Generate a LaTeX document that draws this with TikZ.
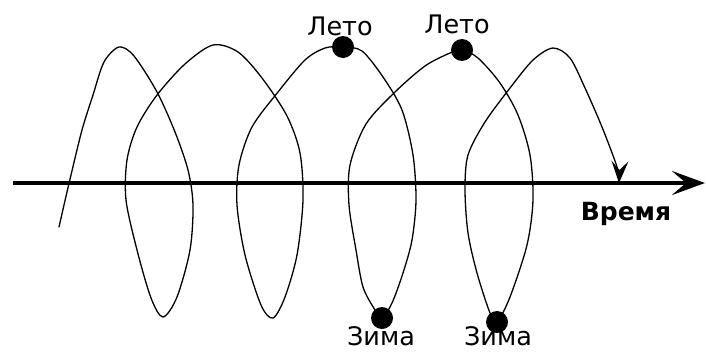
\documentclass[tikz,border=0pt]{standalone}
\usepackage{fontspec}
\setmainfont{DejaVu Sans}
\usetikzlibrary{arrows.meta}
\tikzset{
  lbl/.style={anchor=base, inner sep=0pt, font=\fontsize{25.5}{30}\selectfont},
  lblb/.style={lbl, font=\fontsize{25}{30}\selectfont\bfseries},
  dot/.style={circle, fill=black, inner sep=0pt, minimum size=22pt},
  spiral/.style={line width=1.3pt, line join=round, line cap=round},
  axis/.style={line width=4pt, -{Stealth[length=33pt,width=24pt,inset=14pt]}}
}
\begin{document}
\begin{tikzpicture}[x=1pt,y=-1pt]
\useasboundingbox (0,0) rectangle (706,351);
\coordinate (s1) at (343,47);
\coordinate (s2) at (462,50);
\coordinate (w1) at (382,318);
\coordinate (w2) at (497,322);
\coordinate (a0) at (13,183);
\coordinate (a1) at (705,183);
\coordinate (e) at (619,183);
% time axis
\draw[axis] (a0) -- (a1);
% spiral
\draw[spiral, -{Stealth[length=22pt,width=17pt,inset=9pt]}] plot[smooth, tension=0.5] coordinates {
 (59,227) (64,205) (71,175) (82,130) (93,95) (104,62) (119,47) (134,56) (157,92)
 (175,132) (188,170) (193,205) (190,250) (177,297) (163,317) (151,298) (137,250)
 (126,200) (127,160) (137,127) (157,95) (185,64) (213,45) (238,52) (262,78)
 (287,116) (300,153) (303,200) (297,255) (285,297) (273,318) (261,305) (245,255)
 (237,205) (239,165) (252,127) (278,92) (305,60) (325,48) (s1) (362,51) (383,77)
 (402,110) (413,155) (416,200) (412,240) (403,273) (392,303) (w1) (375,310) (363,287)
 (356,250) (349,205) (350,165) (366,124) (395,92) (425,66) (450,53) (s2) (478,58)
 (500,83) (518,115) (530,155) (533,200) (527,245) (510,297) (w2) (490,313) (477,273)
 (468,233) (465,190) (468,155) (485,122) (510,88) (533,60) (553,48) (570,58)
 (585,88) (602,127) (617,167) (e)
};
% dots
\node[dot] (ds1) at (s1) {};
\node[dot] (ds2) at (s2) {};
\node[dot] (dw1) at (w1) {};
\node[dot] (dw2) at (w2) {};
% labels
\node[lbl] (ls1) at (340,35) {Лето};
\node[lbl] (ls2) at (457,33) {Лето};
\node[lbl] (lw1) at (381,345.5) {Зима};
\node[lbl] (lw2) at (498,345) {Зима};
\node[lblb] (lt) at (626,220) {Время};
\end{tikzpicture}
\end{document}
